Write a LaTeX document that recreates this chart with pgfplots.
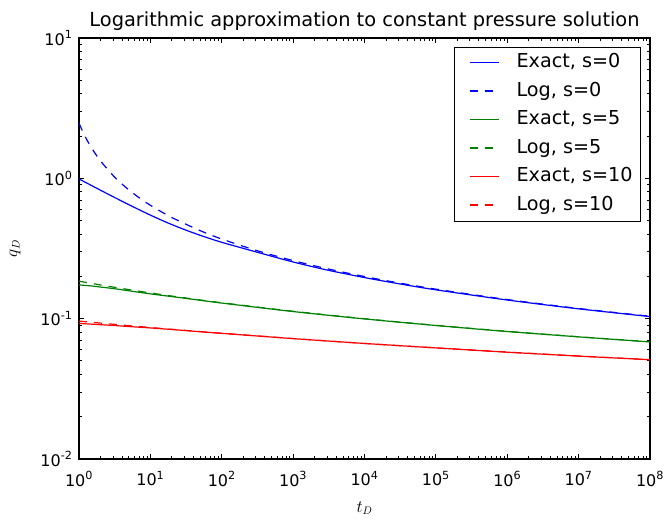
\documentclass[border=0pt]{standalone}
\usepackage{fontspec}
\setmainfont{DejaVu Sans}
\usepackage{pgfplots}
\pgfplotsset{compat=1.18}

\definecolor{mblue}{rgb}{0,0,1}
\definecolor{mgreen}{rgb}{0,0.5,0}
\definecolor{mred}{rgb}{1,0,0}

\begin{document}
\begin{tikzpicture}
\useasboundingbox (0,0) rectangle (664pt,522pt);
\begin{axis}[
    at={(79pt,63pt)}, anchor=south west,
    width=571pt, height=421pt, scale only axis,
    xmode=log, ymode=log,
    xmin=1, xmax=1e8, ymin=1e-2, ymax=10,
    xtick={1,1e1,1e2,1e3,1e4,1e5,1e6,1e7,1e8},
    xticklabels={10\textsuperscript{0},10\textsuperscript{1},10\textsuperscript{2},10\textsuperscript{3},10\textsuperscript{4},10\textsuperscript{5},10\textsuperscript{6},10\textsuperscript{7},10\textsuperscript{8}},
    ytick={1e-2,1e-1,1,10},
    yticklabels={10\textsuperscript{-2},10\textsuperscript{-1},10\textsuperscript{0},10\textsuperscript{1}},
    minor xtick={2,3,4,5,6,7,8,9,20,30,40,50,60,70,80,90,
        200,300,400,500,600,700,800,900,2e3,3e3,4e3,5e3,6e3,7e3,8e3,9e3,
        2e4,3e4,4e4,5e4,6e4,7e4,8e4,9e4,2e5,3e5,4e5,5e5,6e5,7e5,8e5,9e5,
        2e6,3e6,4e6,5e6,6e6,7e6,8e6,9e6,2e7,3e7,4e7,5e7,6e7,7e7,8e7,9e7},
    minor ytick={0.02,0.03,0.04,0.05,0.06,0.07,0.08,0.09,0.2,0.3,0.4,0.5,0.6,0.7,0.8,0.9,
        2,3,4,5,6,7,8,9},
    major tick length=5.3pt, minor tick length=2.7pt,
    tick style={black, line width=0.9pt},
    axis line style={line width=1.1pt},
    tick label style={font=\fontsize{16}{19}\selectfont},
    xticklabel style={yshift=-9pt},
    yticklabel style={xshift=-3pt},
    xlabel={$t_D$}, ylabel={$q_D$},
    label style={font=\fontsize{16}{19}\selectfont},
    xlabel style={at={(axis description cs:0.5,-0.1164)}, anchor=center},
    ylabel style={at={(axis description cs:-0.1121,0.5)}, anchor=center},
    title={Logarithmic approximation to constant pressure solution},
    title style={font=\fontsize{19.4}{23}\selectfont, yshift=-2pt},
    legend style={at={(0.984,0.9786)}, anchor=north east, draw=black, fill=white,
        font=\fontsize{19.2}{23}\selectfont, row sep=5pt,
        nodes={inner xsep=4pt, inner ysep=2pt, text height=14.5pt, text depth=5pt},
        inner xsep=4pt, inner ysep=4pt},
    legend cell align=left,
    legend image code/.code={
        \path[draw=none, fill=none] (-6pt,0pt) (48pt,0pt);
        \draw[line width=1.3pt, #1] (5pt,0.5pt) -- (34pt,0.5pt);},
    every axis plot/.append style={line width=1.2pt},
]
\addplot[color=mblue, smooth] coordinates {
 (1,0.99) (1.778,0.849) (3.162,0.730) (5.623,0.630) (10,0.547) (17.78,0.480)
 (31.62,0.427) (56.23,0.3847) (100,0.3501) (316.2,0.2972) (1e3,0.2535) (3e3,0.2221)
 (1e4,0.1963) (3e4,0.1775) (1e5,0.1605) (1e6,0.1358) (1e7,0.1175) (1e8,0.1035)
};
\addlegendentry{Exact, s=0}
\addplot[color=mblue, smooth, dash pattern=on 8pt off 7pt] coordinates {
 (1,2.472) (1.2,2.017) (1.5,1.6467) (2,1.3314) (3,1.0484) (4,0.9110) (5,0.8270)
 (7,0.7260) (10,0.6427) (20,0.5257) (50,0.4236) (100,0.3694) (300,0.3071)
 (1e3,0.2592) (3e3,0.2269) (1e4,0.1996) (3e4,0.1799) (1e5,0.1623) (1e6,0.1368)
 (1e7,0.1182) (1e8,0.1040)
};
\addlegendentry{Log, s=0}
\addplot[color=mgreen, smooth] coordinates {
 (1,0.174) (1.5,0.171) (2,0.168) (3,0.164) (5,0.1580) (10,0.1502) (20,0.1437)
 (50,0.1352) (100,0.1292) (1e3,0.1124) (1e4,0.0996) (1e5,0.0894) (1e6,0.0810)
 (1e7,0.0742) (1e8,0.0683)
};
\addlegendentry{Exact, s=5}
\addplot[color=mgreen, smooth, dash pattern=on 8pt off 7pt] coordinates {
 (1,0.1850) (2,0.1739) (5,0.1611) (10,0.1525) (20,0.1449) (50,0.1359) (100,0.1298)
 (1e3,0.1129) (1e4,0.0999) (1e5,0.0896) (1e6,0.0812) (1e7,0.0743) (1e8,0.0684)
};
\addlegendentry{Log, s=5}
\addplot[color=mred, smooth] coordinates {
 (1,0.0925) (2,0.0906) (3,0.0895) (5,0.0879) (10,0.0859) (20,0.0837) (50,0.0807)
 (100,0.0786) (1e3,0.0721) (1e4,0.0666) (1e5,0.0619) (1e6,0.0577) (1e7,0.0541)
 (1e8,0.0510)
};
\addlegendentry{Exact, s=10}
\addplot[color=mred, smooth, dash pattern=on 8pt off 7pt] coordinates {
 (1,0.0961) (2,0.0930) (5,0.0892) (10,0.0865) (20,0.0840) (50,0.0809) (100,0.0787)
 (1e3,0.0722) (1e4,0.0666) (1e5,0.0619) (1e6,0.0578) (1e7,0.0542) (1e8,0.0510)
};
\addlegendentry{Log, s=10}
\end{axis}
\end{tikzpicture}
\end{document}
